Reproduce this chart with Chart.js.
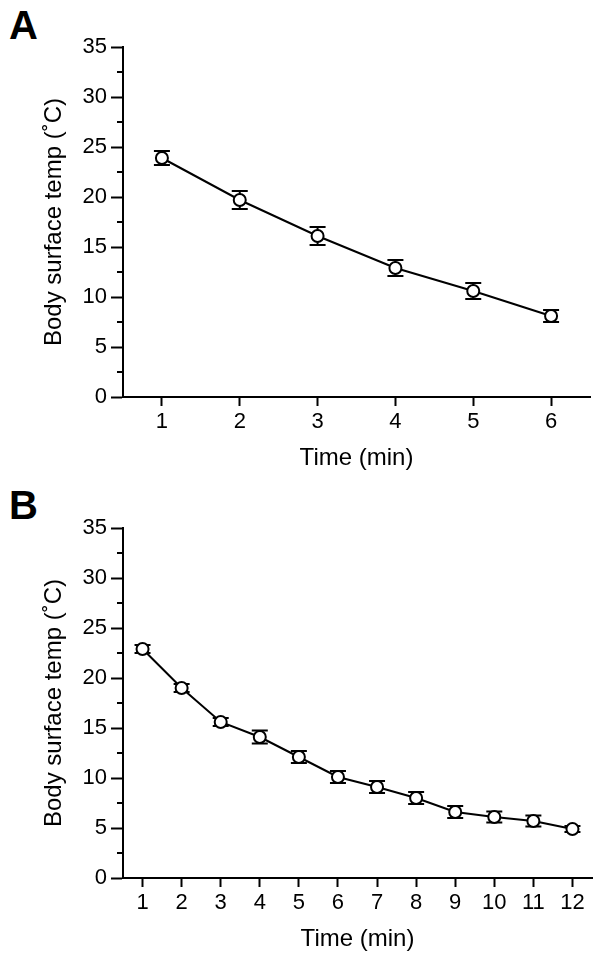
<!DOCTYPE html>
<html>
<head>
<meta charset="utf-8">
<script src="https://cdn.jsdelivr.net/npm/chart.js@4/dist/chart.umd.min.js"></script>
<style>
    html, body { margin: 0; padding: 0; background: #fff; }
    body { width: 602px; height: 961px; position: relative; overflow: hidden; }
    canvas { position: absolute; left: 0; }
    .panel { position: absolute; left: 9px; font: bold 40px "Liberation Sans", Arial, sans-serif; color: #000; }
</style>
</head>
<body>
<div class="panel" style="top:3px">A</div>
<canvas id="chartA" width="602" height="480" style="top:0"></canvas>
<div class="panel" style="top:483px">B</div>
<canvas id="chartB" width="602" height="481" style="top:480px"></canvas>
<script>
// ── Data ──────────────────────────────────────────────────

const timeA = ['1', '2', '3', '4', '5', '6'];
const tempA = [23.9, 19.7, 16.1, 12.9, 10.6, 8.1];
const errA  = [0.7, 0.9, 0.9, 0.8, 0.8, 0.6];

const timeB = ['1', '2', '3', '4', '5', '6', '7', '8', '9', '10', '11', '12'];
const tempB = [22.9, 19.0, 15.6, 14.1, 12.1, 10.1, 9.1, 8.0, 6.6, 6.1, 5.7, 4.9];
const errB  = [0.4, 0.4, 0.4, 0.65, 0.6, 0.6, 0.6, 0.6, 0.6, 0.55, 0.55, 0.3];

const yMin = 0;
const yMax = 35;
const yStep = 5;
const yMinorStep = 2.5;

const xTitle = 'Time (min)';
const yTitle = 'Body surface temp (˚C)';

// ── Plugins ───────────────────────────────────────────────

function errorBarPlugin(errors) {
    return {
        id: 'errorBars',
        beforeDatasetsDraw(chart) {
            const ctx  = chart.ctx;
            const x    = chart.scales.x;
            const y    = chart.scales.y;
            const vals = chart.data.datasets[0].data;
            ctx.save();
            ctx.strokeStyle = '#000';
            ctx.lineWidth = 2;
            vals.forEach((v, i) => {
                const px  = x.getPixelForValue(i);
                const top = y.getPixelForValue(v + errors[i]);
                const bot = y.getPixelForValue(v - errors[i]);
                ctx.beginPath();
                ctx.moveTo(px, top); ctx.lineTo(px, bot);
                ctx.moveTo(px - 8, top); ctx.lineTo(px + 8, top);
                ctx.moveTo(px - 8, bot); ctx.lineTo(px + 8, bot);
                ctx.stroke();
            });
            ctx.restore();
        }
    };
}

// short ticks halfway between the labelled ones
const minorTickPlugin = {
    id: 'minorTicks',
    afterDraw(chart) {
        const ctx = chart.ctx;
        const y   = chart.scales.y;
        const left = chart.chartArea.left;
        ctx.save();
        ctx.strokeStyle = '#000';
        ctx.lineWidth = 2;
        for (let v = yMin + yMinorStep; v < yMax; v += yStep) {
            const py = Math.round(y.getPixelForValue(v));
            ctx.beginPath();
            ctx.moveTo(left - 6, py);
            ctx.lineTo(left, py);
            ctx.stroke();
        }
        ctx.restore();
    }
};

// ── Chart builder ─────────────────────────────────────────

function makeChart(id, labels, values, errors, top, right, bottomH) {
    const ctx = document.getElementById(id).getContext('2d');
    const font = { family: '"Liberation Sans", Arial, sans-serif' };

    return new Chart(ctx, {
        type: 'line',
        plugins: [errorBarPlugin(errors), minorTickPlugin],
        data: {
            labels,
            datasets: [{
                data: values,
                borderColor: '#000',
                borderWidth: 2,
                pointRadius: 6,
                pointBorderWidth: 2,
                pointBorderColor: '#000',
                pointBackgroundColor: '#fff',
                tension: 0
            }]
        },
        options: {
            responsive: false,
            animation: false,
            layout: { padding: { top, right, left: 0, bottom: 0 } },
            plugins: {
                legend:  { display: false },
                tooltip: { enabled: false }
            },
            scales: {
                x: {
                    type: 'category',
                    offset: true,
                    afterFit: s => { s.height = bottomH; },
                    border: { color: '#000', width: 2 },
                    grid:  { drawOnChartArea: false, tickLength: 9, tickColor: '#000', tickWidth: 2 },
                    ticks: { color: '#000', font: { ...font, size: 22 }, padding: 3, maxRotation: 0, autoSkip: false },
                    title: { display: true, text: xTitle, color: '#000', font: { ...font, size: 24 }, padding: { top: 0, bottom: 7 } }
                },
                y: {
                    min: yMin,
                    max: yMax,
                    afterFit: s => { s.width = 123; },
                    border: { color: '#000', width: 2 },
                    grid:  { drawOnChartArea: false, tickLength: 12, tickColor: '#000', tickWidth: 2 },
                    ticks: { stepSize: yStep, color: '#000', font: { ...font, size: 22 }, padding: 4 },
                    title: { display: true, text: yTitle, color: '#000', font: { ...font, size: 24 }, padding: { top: 40, bottom: 0 } }
                }
            }
        }
    });
}

makeChart('chartA', timeA, tempA, errA, 47, 12, 83);
makeChart('chartB', timeB, tempB, errB, 48, 10, 83);
</script>
</body>
</html>
